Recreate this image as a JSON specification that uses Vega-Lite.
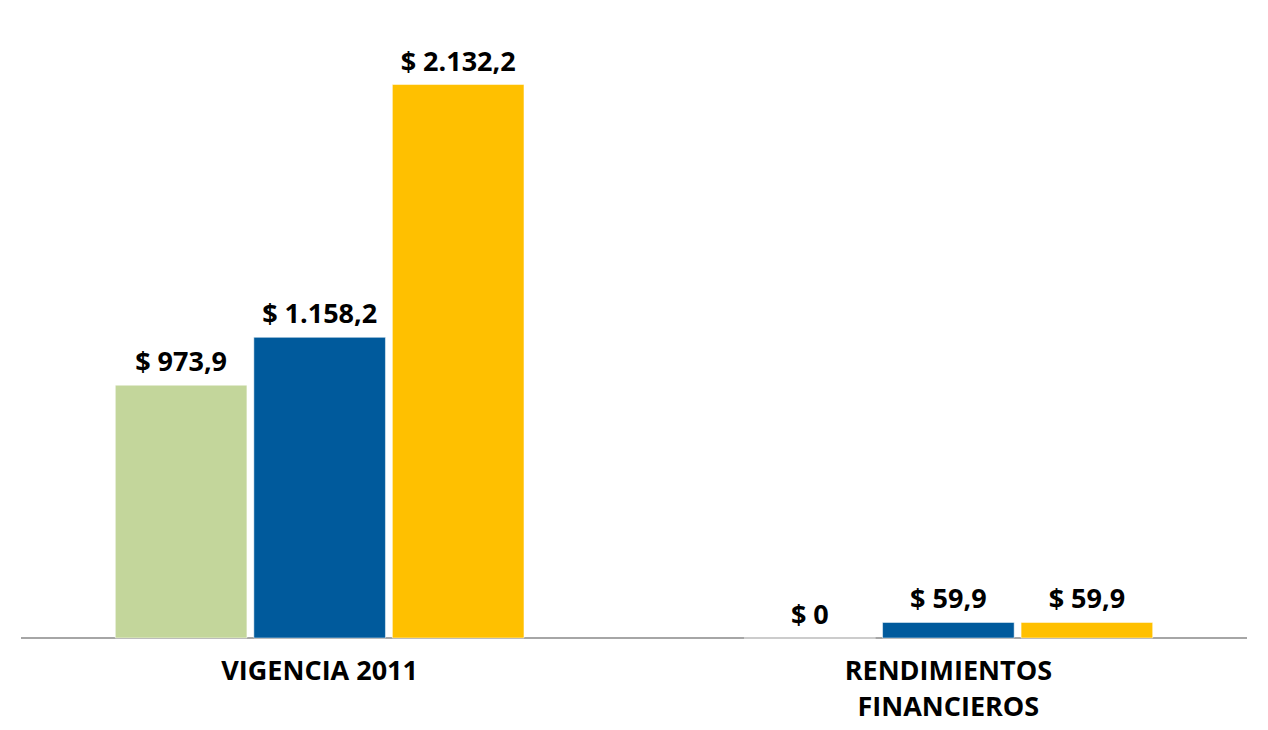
{
  "$schema": "https://vega.github.io/schema/vega-lite/v6.json",
  "width": 1268,
  "height": 730,
  "autosize": {"type": "fit", "contains": "padding"},
  "padding": {"left": 20, "right": 20, "top": 15, "bottom": 10},
  "background": "white",
  "config": {"view": {"stroke": null}, "font": "Open Sans"},
  "data": {
    "values": [
      {"categoria": "VIGENCIA 2011", "serie": "A", "valor": 973.9, "etiqueta": "$ 973,9"},
      {"categoria": "VIGENCIA 2011", "serie": "B", "valor": 1158.2, "etiqueta": "$ 1.158,2"},
      {"categoria": "VIGENCIA 2011", "serie": "C", "valor": 2132.2, "etiqueta": "$ 2.132,2"},
      {"categoria": "RENDIMIENTOS FINANCIEROS", "serie": "A", "valor": 0, "etiqueta": "$ 0"},
      {"categoria": "RENDIMIENTOS FINANCIEROS", "serie": "B", "valor": 59.9, "etiqueta": "$ 59,9"},
      {"categoria": "RENDIMIENTOS FINANCIEROS", "serie": "C", "valor": 59.9, "etiqueta": "$ 59,9"}
    ]
  },
  "encoding": {
    "x": {
      "field": "categoria",
      "type": "nominal",
      "sort": null,
      "scale": {"paddingInner": 0.35, "paddingOuter": 0.15},
      "axis": {
        "title": null,
        "labelAngle": 0,
        "domain": false,
        "ticks": false,
        "labelFontSize": 27,
        "labelFontWeight": "bold",
        "labelColor": "black",
        "labelPadding": 20,
        "labelLimit": 0,
        "labelLineHeight": 36,
        "labelExpr": "datum.value == 'RENDIMIENTOS FINANCIEROS' ? ['RENDIMIENTOS', 'FINANCIEROS'] : datum.value"
      }
    },
    "xOffset": {"field": "serie", "sort": null, "scale": {"paddingInner": 0.05}},
    "y": {
      "field": "valor",
      "type": "quantitative",
      "axis": null,
      "scale": {"domain": [0, 2400]}
    }
  },
  "layer": [
    {
      "mark": {"type": "rule", "color": "#A6A6A6", "strokeWidth": 1.5},
      "encoding": {"x": null, "xOffset": null, "y": {"datum": 0}}
    },
    {
      "mark": {"type": "bar", "stroke": "#ffffff", "strokeWidth": 0.5},
      "encoding": {
        "color": {
          "field": "serie",
          "type": "nominal",
          "scale": {"domain": ["A", "B", "C"], "range": ["#C3D69B", "#005A9C", "#FFC000"]},
          "legend": null
        }
      }
    },
    {
      "mark": {"type": "text", "dy": -22, "fontSize": 27, "fontWeight": "bold", "color": "black"},
      "encoding": {"text": {"field": "etiqueta"}}
    }
  ]
}
